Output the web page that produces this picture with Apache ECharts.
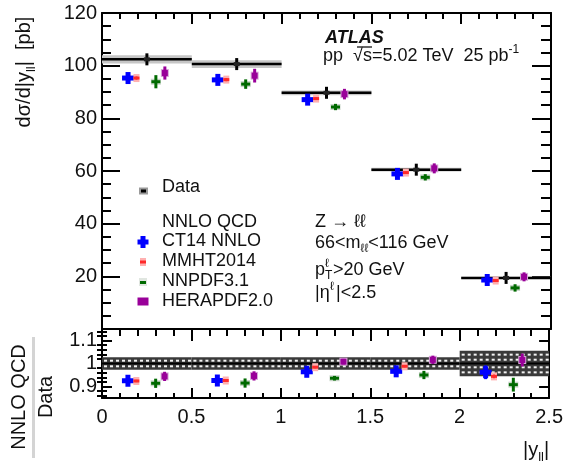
<!DOCTYPE html>
<html>
<head>
<meta charset="utf-8">
<script src="https://cdn.jsdelivr.net/npm/echarts@6/dist/echarts.min.js"></script>
<style>
  html, body { margin: 0; padding: 0; background: #fff; }
  #chart { width: 566px; height: 465px; }
</style>
</head>
<body>
<div id="chart"></div>
<script>
// |y_ll| bin edges
const binEdges = [0, 0.5, 1, 1.5, 2, 2.5];

// Measured cross section dσ/d|y_ll| [pb] and its uncertainty band
const dataXsec = [102.4, 100.6, 89.7, 60.5, 19.4];
const dataUnc = [1.6, 1.5, 0.9, 0.7, 0.4];
// Relative data uncertainty shown in the ratio panel
const dataRelUnc = [0.027, 0.027, 0.027, 0.027, 0.055];

// NNLO QCD predictions [pb]
const ct14 = [95.3, 94.6, 87.1, 58.9, 18.6];
const ct14Err = [1.4, 1.4, 0.5, 0.5, 0.4];
const mmht = [95.3, 94.7, 87.5, 59.4, 18.4];
const mmhtErr = [0.6, 0.6, 0.5, 0.4, 0.3];
const nnpdf = [93.9, 93.0, 84.3, 57.6, 15.6];
const nnpdfErr = [2.5, 1.8, 1.2, 1.2, 1.4];
const hera = [97.2, 96.2, 89.2, 61.0, 19.8];
const heraErr = [2.5, 2.6, 2.0, 1.9, 1.7];

// Prediction / data
const ct14Ratio = [0.925, 0.926, 0.964, 0.966, 0.962];
const ct14RatioErr = [0.012, 0.012, 0.008, 0.008, 0.03];
const mmhtRatio = [0.924, 0.926, 0.984, 0.988, 0.944];
const mmhtRatioErr = [0.005, 0.005, 0.005, 0.005, 0.008];
const nnpdfRatio = [0.914, 0.915, 0.936, 0.95, 0.908];
const nnpdfRatioErr = [0.02, 0.02, 0.01, 0.018, 0.03];
const heraRatio = [0.944, 0.946, 1.008, 1.016, 1.015];
const heraRatioErr = [0.02, 0.02, 0.012, 0.018, 0.028];

const yMainTicks = { min: 0, max: 120, step: 20 };
const ratioMajor = [0.9, 1.0, 1.1];
const ratioMinor = [0.86, 0.88, 0.92, 0.94, 0.96, 0.98, 1.02, 1.04, 1.06, 1.08, 1.12, 1.14];

const FONT = 'Liberation Sans, Arial, Helvetica, sans-serif';

// marker look per prediction set (x shift within a bin, colours)
const predStyle = {
  ct14:  { shift: -0.105, color: '#0000ff' },
  mmht:  { shift: -0.058, color: '#ff2a2a', halo: '#ffb0b0' },
  nnpdf: { shift: 0.05,   color: '#006a00', halo: '#c9d6c9' },
  hera:  { shift: 0.1,    color: '#990099', halo: '#d9a9d9' }
};

const centers = binEdges.slice(0, -1).map((lo, i) => (lo + binEdges[i + 1]) / 2);

function markerShapes(kind, cx, cy, topY, botY) {
  const st = predStyle[kind];
  const out = [];
  const c = st.color;
  if (kind === 'ct14') {
    out.push({ type: 'rect', shape: { x: cx - 1.5, y: topY, width: 3, height: Math.max(botY - topY, 0) }, style: { fill: c } });
    out.push({ type: 'rect', shape: { x: cx - 6, y: cy - 2.5, width: 12, height: 5 }, style: { fill: c } });
    out.push({ type: 'rect', shape: { x: cx - 2.5, y: cy - 6, width: 5, height: 12 }, style: { fill: c } });
  } else if (kind === 'mmht') {
    out.push({ type: 'rect', shape: { x: cx - 3, y: cy - 4, width: 6, height: 8 }, style: { fill: st.halo } });
    out.push({ type: 'rect', shape: { x: cx - 1, y: topY, width: 2, height: Math.max(botY - topY, 0) }, style: { fill: c } });
    out.push({ type: 'rect', shape: { x: cx - 3, y: cy - 1.5, width: 6, height: 3 }, style: { fill: c } });
  } else if (kind === 'nnpdf') {
    out.push({ type: 'rect', shape: { x: cx - 5, y: cy - 3, width: 10, height: 6 }, style: { fill: st.halo } });
    out.push({ type: 'rect', shape: { x: cx - 1.5, y: topY, width: 3, height: Math.max(botY - topY, 0) }, style: { fill: c } });
    out.push({ type: 'rect', shape: { x: cx - 4.5, y: cy - 1.5, width: 9, height: 3 }, style: { fill: c } });
  } else {
    out.push({ type: 'rect', shape: { x: cx - 4, y: cy - 4, width: 8, height: 8 }, style: { fill: st.halo } });
    out.push({ type: 'rect', shape: { x: cx - 1.5, y: topY, width: 3, height: Math.max(botY - topY, 0) }, style: { fill: c } });
    out.push({ type: 'rect', shape: { x: cx - 3, y: cy - 3, width: 6, height: 6 }, style: { fill: c } });
  }
  return out;
}

function predSeries(kind, values, errs, xAxisIndex, yAxisIndex) {
  const st = predStyle[kind];
  return {
    type: 'custom',
    xAxisIndex, yAxisIndex,
    z: 5,
    encode: { x: 0, y: 1 },
    data: values.map((v, i) => [centers[i] + st.shift, v, errs[i]]),
    renderItem: function (params, api) {
      const x = api.value(0), v = api.value(1), e = api.value(2);
      const p = api.coord([x, v]);
      const t = api.coord([x, v + e]);
      const b = api.coord([x, v - e]);
      return { type: 'group', children: markerShapes(kind, p[0], p[1], t[1], b[1]) };
    }
  };
}

// data points: grey uncertainty band, black bin-wide line, small vertical marker
const mainDataSeries = {
  type: 'custom',
  xAxisIndex: 0, yAxisIndex: 0,
  z: 3,
  encode: { x: [0, 1], y: 2 },
  data: dataXsec.map((v, i) => [binEdges[i], binEdges[i + 1], v, dataUnc[i]]),
  renderItem: function (params, api) {
    const lo = api.value(0), hi = api.value(1), v = api.value(2), e = api.value(3);
    const a = api.coord([lo, v + e]);
    const b = api.coord([hi, v - e]);
    const l = api.coord([lo, v]);
    const r = api.coord([hi, v]);
    const m = api.coord([(lo + hi) / 2, v]);
    return {
      type: 'group',
      children: [
        { type: 'rect', shape: { x: a[0], y: a[1], width: b[0] - a[0], height: Math.max(b[1] - a[1], 2) }, style: { fill: '#c6c6c6' } },
        { type: 'line', shape: { x1: l[0], y1: l[1], x2: r[0], y2: r[1] }, style: { stroke: '#000', lineWidth: 2.5 } },
        { type: 'rect', shape: { x: m[0] - 1.5, y: m[1] - 6, width: 3, height: 12 }, style: { fill: '#000' } },
        { type: 'rect', shape: { x: m[0] - 3, y: m[1] - 2, width: 6, height: 4 }, style: { fill: '#222' } }
      ]
    };
  }
};

// data uncertainty band around unity in the ratio panel
const ratioBandSeries = {
  type: 'custom',
  xAxisIndex: 2, yAxisIndex: 2,
  z: 3,
  encode: { x: [0, 1], y: 2 },
  data: dataRelUnc.map((u, i) => [binEdges[i], binEdges[i + 1], u]),
  renderItem: function (params, api) {
    const lo = api.value(0), hi = api.value(1), u = api.value(2);
    const a = api.coord([lo, 1 + u]);
    const b = api.coord([hi, 1 - u]);
    const kids = [
      { type: 'rect', shape: { x: a[0], y: a[1], width: b[0] - a[0], height: b[1] - a[1] }, style: { fill: '#3a3a3a' } }
    ];
    const rows = u > 0.04 ? [0.7, 0.3, -0.3, -0.7] : [0.45, -0.45];
    rows.forEach(f => {
      const p = api.coord([lo, 1 + u * f]);
      kids.push({ type: 'line', shape: { x1: a[0] + 2, y1: p[1], x2: b[0], y2: p[1] },
        style: { stroke: '#f2f2f2', lineWidth: 2, lineDash: [3, 3] } });
    });
    const c1 = api.coord([lo, 1]);
    kids.push({ type: 'line', shape: { x1: a[0], y1: c1[1], x2: b[0], y2: c1[1] }, style: { stroke: '#000', lineWidth: 2 } });
    return { type: 'group', children: kids };
  }
};

const black = { color: '#000', width: 2 };

function xAxisDef(gridIndex, position, opts) {
  return Object.assign({
    type: 'value', gridIndex, position, min: 0, max: 2.5, interval: 0.5,
    axisLine: { show: true, onZero: false, lineStyle: black },
    axisTick: { show: true, inside: true, length: 11, lineStyle: black },
    minorTick: { show: true, splitNumber: 5, length: 6, lineStyle: black },
    axisLabel: { show: false },
    splitLine: { show: false }
  }, opts);
}

const tickLabel = { color: '#111', fontSize: 20, fontFamily: FONT };

const option = {
  animation: false,
  backgroundColor: '#fff',
  grid: [
    { left: 102, right: 15, top: 13, height: 316 },
    { left: 102, right: 15, top: 329, height: 69 }
  ],
  xAxis: [
    xAxisDef(0, 'bottom', { axisTick: { show: false }, minorTick: { show: false } }),
    xAxisDef(0, 'top', {}),
    xAxisDef(1, 'bottom', {
      axisTick: { show: true, inside: true, length: 10, lineStyle: black },
      minorTick: { show: true, splitNumber: 5, length: 5, lineStyle: black },
      axisLabel: Object.assign({ show: true, margin: 9 }, tickLabel)
    }),
    xAxisDef(1, 'top', {
      axisTick: { show: true, inside: true, length: 12, lineStyle: black },
      minorTick: { show: true, splitNumber: 5, length: 7, lineStyle: black }
    })
  ],
  yAxis: [
    {
      type: 'value', gridIndex: 0, position: 'left',
      min: yMainTicks.min, max: yMainTicks.max, interval: yMainTicks.step,
      axisLine: { show: true, onZero: false, lineStyle: black },
      axisTick: { show: true, inside: true, length: 18, lineStyle: black },
      minorTick: { show: true, splitNumber: 4, length: 9, lineStyle: black },
      axisLabel: Object.assign({ show: true, margin: 5, formatter: v => (v === 0 ? '' : String(v)) }, tickLabel),
      splitLine: { show: false }
    },
    {
      type: 'value', gridIndex: 0, position: 'right',
      min: yMainTicks.min, max: yMainTicks.max, interval: yMainTicks.step,
      axisLine: { show: true, onZero: false, lineStyle: black },
      axisTick: { show: true, inside: true, length: 19, lineStyle: black },
      minorTick: { show: true, splitNumber: 4, length: 10, lineStyle: black },
      axisLabel: { show: false },
      splitLine: { show: false }
    },
    {
      type: 'value', gridIndex: 1, position: 'left', min: 0.85, max: 1.15,
      axisLine: { show: true, onZero: false, lineStyle: black },
      axisTick: { show: true, inside: true, length: 10, lineStyle: black, customValues: ratioMajor },
      axisLabel: Object.assign({ show: true, margin: 5, customValues: ratioMajor,
        formatter: v => String(Math.round(v * 10) / 10) }, tickLabel),
      splitLine: { show: false }
    },
    {
      type: 'value', gridIndex: 1, position: 'left', min: 0.85, max: 1.15,
      axisLine: { show: false },
      axisTick: { show: true, inside: true, length: 5, lineStyle: black, customValues: ratioMinor },
      axisLabel: { show: false },
      splitLine: { show: false }
    },
    {
      type: 'value', gridIndex: 1, position: 'right', min: 0.85, max: 1.15,
      axisLine: { show: true, onZero: false, lineStyle: black },
      axisTick: { show: true, inside: true, length: 10, lineStyle: black, customValues: ratioMajor },
      axisLabel: { show: false },
      splitLine: { show: false }
    },
    {
      type: 'value', gridIndex: 1, position: 'right', min: 0.85, max: 1.15,
      axisLine: { show: false },
      axisTick: { show: true, inside: true, length: 5, lineStyle: black, customValues: ratioMinor },
      axisLabel: { show: false },
      splitLine: { show: false }
    }
  ],
  series: [
    mainDataSeries,
    predSeries('ct14', ct14, ct14Err, 0, 0),
    predSeries('mmht', mmht, mmhtErr, 0, 0),
    predSeries('nnpdf', nnpdf, nnpdfErr, 0, 0),
    predSeries('hera', hera, heraErr, 0, 0),
    ratioBandSeries,
    predSeries('ct14', ct14Ratio, ct14RatioErr, 2, 2),
    predSeries('mmht', mmhtRatio, mmhtRatioErr, 2, 2),
    predSeries('nnpdf', nnpdfRatio, nnpdfRatioErr, 2, 2),
    predSeries('hera', heraRatio, heraRatioErr, 2, 2)
  ]
};

// text helpers
const rich = {
  n: { fontSize: 18, lineHeight: 24, fontFamily: FONT, fill: '#111' },
  sub: { fontSize: 12, lineHeight: 12, verticalAlign: 'bottom', fontFamily: FONT, fill: '#111' },
  sup: { fontSize: 12, lineHeight: 12, verticalAlign: 'top', fontFamily: FONT, fill: '#111' },
  t: { fontSize: 20, lineHeight: 28, fontFamily: FONT, fill: '#111' },
  ts: { fontSize: 13, lineHeight: 13, verticalAlign: 'bottom', fontFamily: FONT, fill: '#111' }
};

function txt(x, y, text, extra) {
  return Object.assign({
    type: 'text', x, y, z: 20,
    style: Object.assign({ text, rich, fontSize: 18, fontFamily: FONT, fill: '#111', align: 'left', verticalAlign: 'middle' }, (extra && extra.style) || {})
  }, extra ? { rotation: extra.rotation || 0 } : {});
}

const legendX = 143;
const graphics = [
  // axis titles
  txt(24, 72, '{t|dσ/d|y}{ts|ll}{t||  [pb]}', { rotation: Math.PI / 2, style: { align: 'center' } }),
  txt(19, 397, '{t|NNLO QCD}', { rotation: Math.PI / 2, style: { align: 'center' } }),
  txt(46, 397, '{t|Data}', { rotation: Math.PI / 2, style: { align: 'center' } }),
  { type: 'line', z: 20, shape: { x1: 33.5, y1: 337, x2: 33.5, y2: 458 }, style: { stroke: '#d4d4d4', lineWidth: 3 } },
  txt(523, 450, '{t||y}{ts|ll}{t||}'),

  // experiment label
  txt(325, 38, 'ATLAS', { style: { fontSize: 18, fontWeight: 'bold', fontStyle: 'italic' } }),
  txt(323, 56, '{n|pp  √s=5.02 TeV  25 pb}{sup|-1}'),
  { type: 'line', z: 20, shape: { x1: 357, y1: 47, x2: 372, y2: 47 }, style: { stroke: '#333', lineWidth: 1.5 } },

  // selection
  txt(315, 222, '{n|Z → ℓℓ}'),
  txt(315, 243, '{n|66<m}{sub|ℓℓ}{n|<116 GeV}'),
  txt(315, 270, '{n|p}'),
  txt(325, 264, 'ℓ', { style: { fontSize: 12 } }),
  txt(325, 276, 'T', { style: { fontSize: 12 } }),
  txt(333, 270, '{n|>20 GeV}'),
  txt(315, 293, '{n||η}'),
  txt(330, 287, 'ℓ', { style: { fontSize: 12 } }),
  txt(336, 293, '{n||<2.5}'),

  // legend
  { type: 'rect', z: 20, shape: { x: legendX - 4, y: 187.5, width: 9, height: 7 }, style: { fill: '#9a9a9a' } },
  { type: 'rect', z: 21, shape: { x: legendX - 2, y: 189.5, width: 5, height: 3 }, style: { fill: '#000' } },
  txt(162, 187.5, 'Data'),
  txt(162, 222, 'NNLO QCD'),
  { type: 'rect', z: 20, shape: { x: legendX - 5.5, y: 239.5, width: 11, height: 5 }, style: { fill: predStyle.ct14.color } },
  { type: 'rect', z: 20, shape: { x: legendX - 2.5, y: 236, width: 5, height: 12 }, style: { fill: predStyle.ct14.color } },
  txt(162, 241.5, 'CT14 NNLO'),
  { type: 'rect', z: 20, shape: { x: legendX - 3, y: 258, width: 6, height: 8 }, style: { fill: predStyle.mmht.halo } },
  { type: 'rect', z: 21, shape: { x: legendX - 3, y: 260.5, width: 6, height: 3 }, style: { fill: predStyle.mmht.color } },
  txt(162, 261.5, 'MMHT2014'),
  { type: 'rect', z: 20, shape: { x: legendX - 4, y: 278, width: 8, height: 8 }, style: { fill: '#e0e6e0' } },
  { type: 'rect', z: 21, shape: { x: legendX - 3, y: 281, width: 6, height: 3 }, style: { fill: predStyle.nnpdf.color } },
  txt(162, 281.5, 'NNPDF3.1'),
  { type: 'rect', z: 20, shape: { x: legendX - 5.5, y: 297.5, width: 11, height: 8 }, style: { fill: predStyle.hera.color } },
  txt(162, 301.5, 'HERAPDF2.0')
];
option.graphic = graphics;

const chart = echarts.init(document.getElementById('chart'), null, { renderer: 'canvas' });
chart.setOption(option);
</script>
</body>
</html>
